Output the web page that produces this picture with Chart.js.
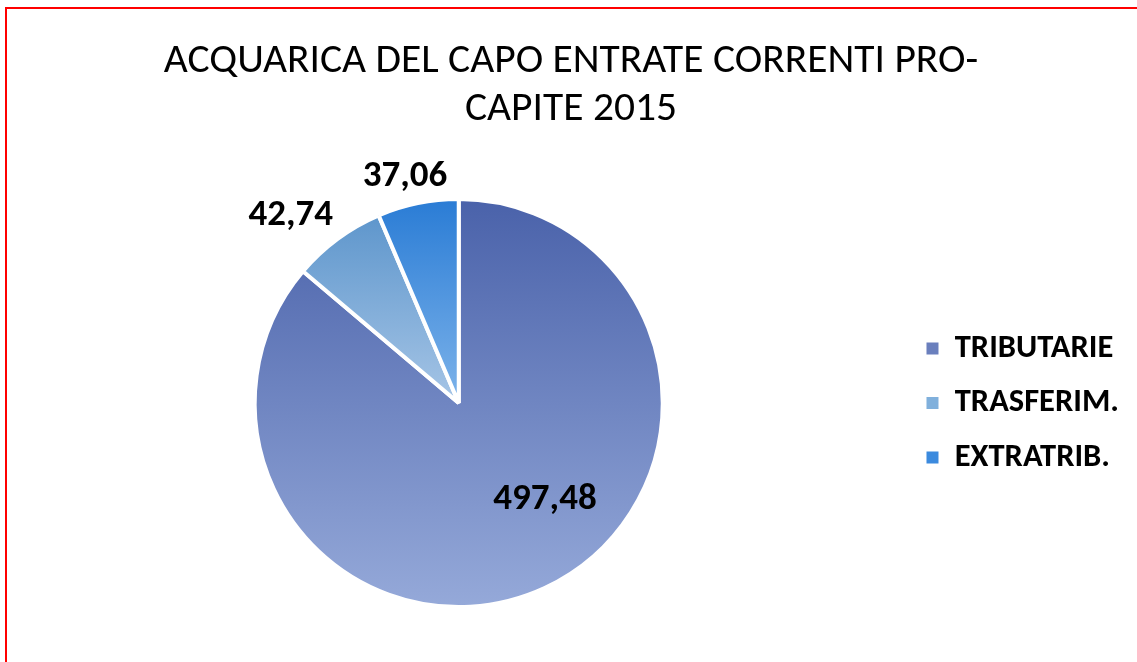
<!DOCTYPE html>
<html>
<head>
<meta charset="utf-8">
<script src="https://cdn.jsdelivr.net/npm/chart.js@4/dist/chart.umd.min.js"></script>
<style>
  html, body { margin: 0; padding: 0; background: #fff; overflow: hidden; }
  #frame { position: absolute; left: 5px; top: 7px; width: 1200px; height: 720px; border: 2px solid #ff0000; box-sizing: border-box; }
  #wrap { position: absolute; left: 0; top: 0; width: 1137px; height: 662px; }
</style>
</head>
<body>
<div id="frame"></div>
<div id="wrap"><canvas id="chart"></canvas></div>
<script>
const titleLines = ['ACQUARICA DEL CAPO ENTRATE CORRENTI PRO-', 'CAPITE 2015'];
const categories = ['TRIBUTARIE', 'TRASFERIM.', 'EXTRATRIB.'];
const values = [497.48, 42.74, 37.06];

// top / bottom colours of each slice's vertical gradient
const topColors = ['#4a62aa', '#5e96cc', '#2a7cd5'];
const bottomColors = ['#95a9d9', '#a6c5e6', '#7db3ea'];
const legendColors = ['#6a7fbd', '#80b0dc', '#3b8ade'];
// label placement: [angle shift in degrees, distance as fraction of radius]
const labelPlace = [[-16.7, 0.637], [-5.4, 1.235], [-1.8, 1.142]];

const fontFamily = 'Carlito, "Liberation Sans Narrow", "DejaVu Sans Condensed", Lato, sans-serif';

const fmt = v => v.toFixed(2).replace('.', ',');

function arcYRange(arc) {
  const { x, y, startAngle, endAngle, outerRadius } = arc.getProps(['x', 'y', 'startAngle', 'endAngle', 'outerRadius'], true);
  let ys = [y, y + Math.sin(startAngle) * outerRadius, y + Math.sin(endAngle) * outerRadius];
  for (let k = -2; k <= 2; k++) {
    const up = -Math.PI / 2 + k * 2 * Math.PI;
    const down = Math.PI / 2 + k * 2 * Math.PI;
    if (up > startAngle && up < endAngle) ys.push(y - outerRadius);
    if (down > startAngle && down < endAngle) ys.push(y + outerRadius);
  }
  return [Math.min(...ys), Math.max(...ys)];
}

const gradientFill = {
  id: 'gradientFill',
  beforeDatasetsDraw(chart) {
    const ctx = chart.ctx;
    chart.getDatasetMeta(0).data.forEach((arc, i) => {
      const [y0, y1] = arcYRange(arc);
      const g = ctx.createLinearGradient(0, y0, 0, y1);
      g.addColorStop(0, topColors[i]);
      g.addColorStop(1, bottomColors[i]);
      arc.options.backgroundColor = g;
    });
  }
};

const sliceLabels = {
  id: 'sliceLabels',
  afterDatasetsDraw(chart) {
    const ctx = chart.ctx;
    ctx.save();
    ctx.font = 'bold 37px ' + fontFamily;
    ctx.fillStyle = '#000';
    ctx.textAlign = 'center';
    ctx.textBaseline = 'middle';
    chart.getDatasetMeta(0).data.forEach((arc, i) => {
      const { x, y, startAngle, endAngle, outerRadius } = arc.getProps(['x', 'y', 'startAngle', 'endAngle', 'outerRadius'], true);
      const a = (startAngle + endAngle) / 2 + labelPlace[i][0] * Math.PI / 180;
      const d = outerRadius * labelPlace[i][1];
      ctx.fillText(fmt(values[i]), x + Math.cos(a) * d, y + Math.sin(a) * d);
    });
    ctx.restore();
  }
};

new Chart(document.getElementById('chart'), {
  type: 'pie',
  data: {
    labels: categories,
    datasets: [{
      data: values,
      backgroundColor: legendColors,
      borderColor: '#ffffff',
      borderWidth: 4
    }]
  },
  options: {
    responsive: true,
    maintainAspectRatio: false,
    animation: false,
    events: [],
    layout: { padding: { left: 13, right: 8, top: 0, bottom: 53 } },
    plugins: {
      title: {
        display: true,
        text: titleLines,
        color: '#000',
        font: { family: fontFamily, size: 41.5, weight: 'normal', lineHeight: 48.5 / 41.5 },
        padding: { top: 37, bottom: 63 }
      },
      legend: {
        position: 'right',
        fullSize: false,
        labels: {
          color: '#000',
          boxWidth: 12,
          boxHeight: 12,
          padding: 22,
          font: { family: fontFamily, size: 32.5, weight: 'bold', lineHeight: 1 },
          generateLabels(chart) {
            return Chart.controllers.pie.overrides.plugins.legend.labels.generateLabels(chart).map((item, i) => {
              item.fillStyle = legendColors[i];
              item.lineWidth = 0;
              item.strokeStyle = legendColors[i];
              return item;
            });
          }
        }
      },
      tooltip: { enabled: false }
    }
  },
  plugins: [gradientFill, sliceLabels]
});
</script>
</body>
</html>
